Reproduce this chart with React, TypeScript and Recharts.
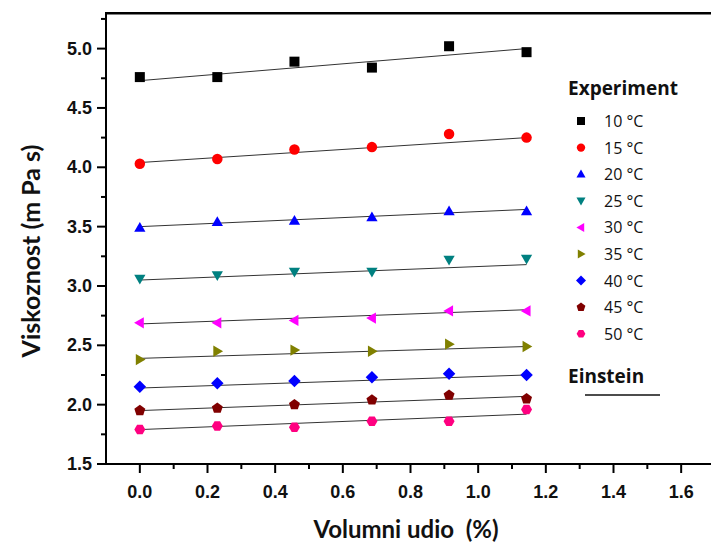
import React from 'react';
import { ComposedChart, Scatter, XAxis, YAxis } from 'recharts';

// volume fraction (%) at which viscosity was measured
const VOL = [0, 0.229, 0.457, 0.686, 0.914, 1.143];

const T10 = [4.76, 4.76, 4.89, 4.84, 5.02, 4.97];
const T15 = [4.03, 4.07, 4.15, 4.17, 4.28, 4.25];
const T20 = [3.49, 3.54, 3.55, 3.58, 3.63, 3.63];
const T25 = [3.06, 3.09, 3.12, 3.12, 3.22, 3.23];
const T30 = [2.69, 2.69, 2.71, 2.73, 2.79, 2.79];
const T35 = [2.38, 2.45, 2.46, 2.45, 2.51, 2.49];
const T40 = [2.15, 2.18, 2.2, 2.23, 2.26, 2.25];
const T45 = [1.95, 1.97, 2.0, 2.04, 2.08, 2.05];
const T50 = [1.79, 1.82, 1.81, 1.86, 1.86, 1.96];

// Einstein model lines: value at first and last volume fraction
const FIT_START = [4.73, 4.04, 3.5, 3.05, 2.68, 2.39, 2.14, 1.95, 1.79];
const FIT_END = [5.0, 4.25, 3.645, 3.18, 2.8, 2.49, 2.25, 2.07, 1.92];

const LABELS = ['10 °C', '15 °C', '20 °C', '25 °C', '30 °C', '35 °C', '40 °C', '45 °C', '50 °C'];
const COLORS = ['#000000', '#ff0000', '#0000ff', '#008080', '#ff00ff', '#808000', '#0000ff', '#800000', '#ff0080'];
const SHAPES = ['square', 'circle', 'up', 'down', 'left', 'right', 'diamond', 'pentagon', 'hexagon'];
const VALUES = [T10, T15, T20, T25, T30, T35, T40, T45, T50];

const X_DOMAIN = [-0.1, 1.7];
const Y_DOMAIN = [1.5, 5.3];
const X_TICKS = [0, 0.1, 0.2, 0.3, 0.4, 0.5, 0.6, 0.7, 0.8, 0.9, 1.0, 1.1, 1.2, 1.3, 1.4, 1.5, 1.6, 1.7];
const Y_TICKS = [1.5, 1.75, 2.0, 2.25, 2.5, 2.75, 3.0, 3.25, 3.5, 3.75, 4.0, 4.25, 4.5, 4.75, 5.0, 5.25];

const series = VALUES.map((vals, i) => ({
  label: LABELS[i],
  color: COLORS[i],
  shape: SHAPES[i],
  points: VOL.map((x, j) => ({ x, y: vals[j] })),
  fit: [
    { x: VOL[0], y: FIT_START[i] },
    { x: VOL[VOL.length - 1], y: FIT_END[i] },
  ],
}));

function polyPoints(cx: number, cy: number, r: number, n: number, rot: number) {
  const pts: string[] = [];
  for (let k = 0; k < n; k++) {
    const a = rot + (k * 2 * Math.PI) / n;
    pts.push(`${cx + r * Math.cos(a)},${cy + r * Math.sin(a)}`);
  }
  return pts.join(' ');
}

function Marker({ shape, cx, cy, color, s }: { shape: string; cx: number; cy: number; color: string; s: number }) {
  switch (shape) {
    case 'square':
      return <rect x={cx - s} y={cy - s} width={2 * s} height={2 * s} fill={color} />;
    case 'circle':
      return <circle cx={cx} cy={cy} r={s * 1.05} fill={color} />;
    case 'up':
      return <polygon points={polyPoints(cx, cy + s * 0.15, s * 1.3, 3, -Math.PI / 2)} fill={color} />;
    case 'down':
      return <polygon points={polyPoints(cx, cy - s * 0.15, s * 1.3, 3, Math.PI / 2)} fill={color} />;
    case 'left':
      return <polygon points={polyPoints(cx + s * 0.15, cy, s * 1.3, 3, Math.PI)} fill={color} />;
    case 'right':
      return <polygon points={polyPoints(cx - s * 0.15, cy, s * 1.3, 3, 0)} fill={color} />;
    case 'diamond':
      return <polygon points={polyPoints(cx, cy, s * 1.25, 4, 0)} fill={color} />;
    case 'pentagon':
      return <polygon points={polyPoints(cx, cy, s * 1.15, 5, -Math.PI / 2)} fill={color} />;
    default:
      return <polygon points={polyPoints(cx, cy, s * 1.1, 6, 0)} fill={color} />;
  }
}

const tickFont = { fontFamily: '"Liberation Sans", Arial, sans-serif', fontWeight: 700, fontSize: 18, fill: '#111' };

function XTick(props: any) {
  const { x, y, payload } = props;
  const v = payload.value as number;
  const major = Math.round(v * 10) % 2 === 0;
  return (
    <g>
      <line x1={x} x2={x} y1={y} y2={y + (major ? 9 : 5)} stroke="#000" strokeWidth={2} />
      {major && (
        <text x={x} y={y + 34} textAnchor="middle" {...tickFont}>
          {v.toFixed(1)}
        </text>
      )}
    </g>
  );
}

function YTick(props: any) {
  const { x, y, payload } = props;
  const v = payload.value as number;
  const major = Math.round(v * 4) % 2 === 0;
  return (
    <g>
      <line x1={x - (major ? 9 : 5)} x2={x} y1={y} y2={y} stroke="#000" strokeWidth={2} />
      {major && (
        <text x={x - 14} y={y} textAnchor="end" dominantBaseline="central" {...tickFont}>
          {v.toFixed(1)}
        </text>
      )}
    </g>
  );
}

const titleFont = { fontFamily: 'Lato, "Open Sans", sans-serif', fontWeight: 700, fill: '#111' };
const legendFont = { fontFamily: '"Open Sans", sans-serif', fill: '#111' };

export default function App() {
  return (
    <div style={{ position: 'absolute', left: 0, top: 0, width: 711, height: 548, overflow: 'hidden', background: '#fff' }}>
      <ComposedChart width={760} height={548} margin={{ top: 13, right: 45, bottom: 44, left: 6 }}>
        <XAxis
          type="number"
          dataKey="x"
          domain={X_DOMAIN}
          ticks={X_TICKS}
          interval={0}
          height={40}
          tickSize={0}
          tickMargin={0}
          tickLine={false}
          tick={<XTick />}
          axisLine={{ stroke: '#000', strokeWidth: 2 }}
        />
        <YAxis
          type="number"
          dataKey="y"
          domain={Y_DOMAIN}
          ticks={Y_TICKS}
          interval={0}
          width={100}
          tickSize={0}
          tickMargin={0}
          tickLine={false}
          tick={<YTick />}
          axisLine={{ stroke: '#000', strokeWidth: 2 }}
        />
        {series.map((s) => (
          <Scatter
            key={`fit-${s.label}`}
            data={s.fit}
            line={{ stroke: '#333', strokeWidth: 1 }}
            shape={() => <g />}
            isAnimationActive={false}
          />
        ))}
        {series.map((s) => (
          <Scatter
            key={s.label}
            name={s.label}
            data={s.points}
            fill={s.color}
            shape={(p: any) => <Marker shape={s.shape} cx={p.cx} cy={p.cy} color={s.color} s={5} />}
            isAnimationActive={false}
          />
        ))}
      </ComposedChart>

      <svg width={711} height={548} style={{ position: 'absolute', left: 0, top: 0, pointerEvents: 'none' }}>
        {/* top edge of the plot frame */}
        <rect x={105} y={12} width={606} height={2.5} fill="#000" />

        <text x={406} y={528} textAnchor="middle" dominantBaseline="central" fontSize={24} {...titleFont}>
          {'Volumni udio\u00a0 (%)'}
        </text>
        <text
          x={30}
          y={251}
          transform="rotate(-90, 30, 251)"
          textAnchor="middle"
          dominantBaseline="central"
          fontSize={25}
          {...titleFont}
        >
          Viskoznost (m Pa s)
        </text>

        <text x={568} y={88} dominantBaseline="central" fontSize={19} fontWeight={700} {...legendFont}>
          Experiment
        </text>
        {series.map((s, i) => (
          <g key={s.label}>
            <Marker shape={s.shape} cx={581} cy={121 + i * 26.6} color={s.color} s={4} />
            <text x={604} y={121 + i * 26.6} dominantBaseline="central" fontSize={16} {...legendFont}>
              {s.label}
            </text>
          </g>
        ))}
        <text x={568} y={376} dominantBaseline="central" fontSize={19} fontWeight={700} {...legendFont}>
          Einstein
        </text>
        <line x1={585} x2={660} y1={395} y2={395} stroke="#111" strokeWidth={1.5} />
      </svg>
    </div>
  );
}
